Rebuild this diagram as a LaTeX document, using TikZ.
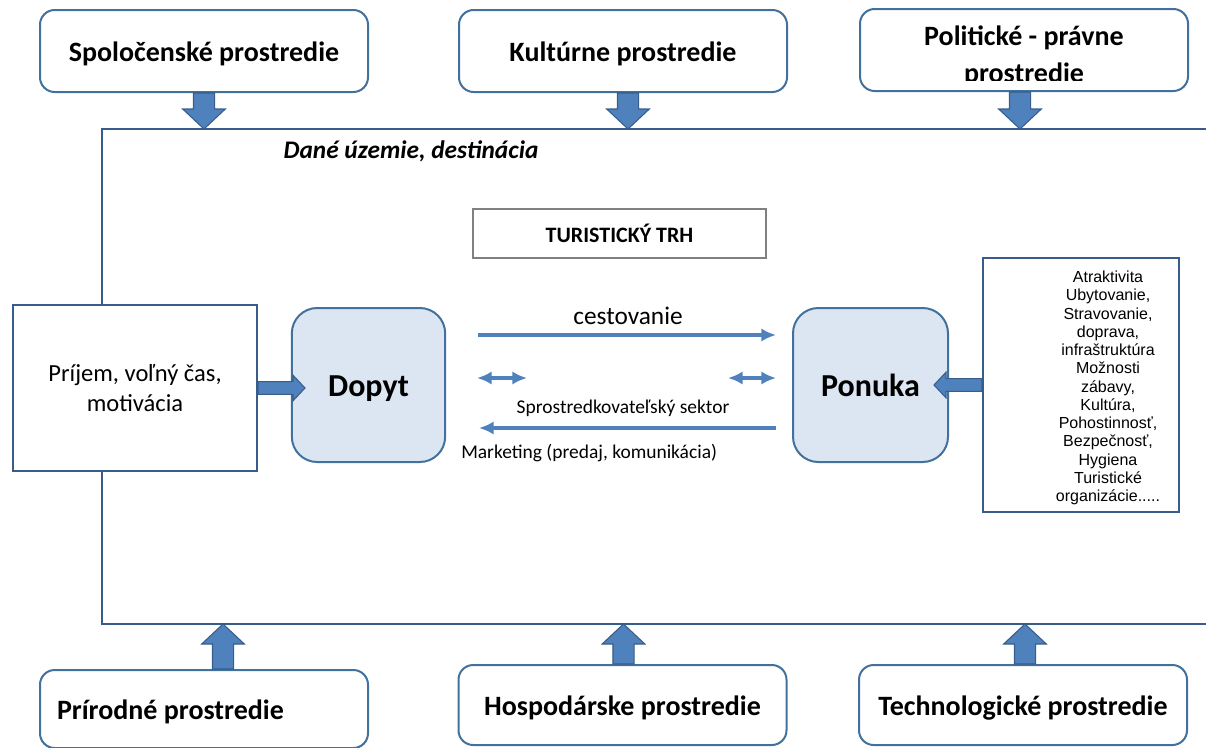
\documentclass[tikz,border=0pt]{standalone}
\usepackage{fontspec}
\setmainfont{Carlito}
\newfontfamily\arialfont{Liberation Sans}
\usetikzlibrary{calc,arrows.meta}

\definecolor{boxline}{RGB}{65,113,156}
\definecolor{frameline}{RGB}{56,93,138}
\definecolor{arrblue}{RGB}{79,129,189}
\definecolor{lightfill}{RGB}{220,230,242}

% block arrow: [scale]{from}{tip}
\newcommand\blockarrow[3][1]{%
  \pgfmathsetlengthmacro\bas{#1*7.9pt}%
  \pgfmathsetlengthmacro\bah{#1*16pt}%
  \pgfmathsetlengthmacro\bal{#1*15pt}%
  \coordinate (bh) at ($(#3)!\bal!(#2)$);
  \filldraw[block] ($(#2)!\bas!90:(#3)$) -- ($(bh)!\bas!90:(#3)$) -- ($(bh)!\bah!90:(#3)$)
    -- (#3) -- ($(bh)!\bah!-90:(#3)$) -- ($(bh)!\bas!-90:(#3)$) -- ($(#2)!\bas!-90:(#3)$) -- cycle;}

\tikzset{
  envbox/.style={draw=boxline, line width=1.5pt, rounded corners=11pt, fill=white,
    minimum width=246pt, minimum height=61.5pt, text height=16pt, text depth=0pt,
    font=\fontsize{21}{24}\selectfont\bfseries},
  sqbox/.style={draw=frameline, line width=1.5pt, fill=white},
  mktbox/.style={draw=boxline, line width=1.5pt, rounded corners=19pt, fill=lightfill,
    minimum width=115pt, minimum height=115.5pt, text height=22pt, text depth=4.8pt,
    font=\fontsize{24}{28}\selectfont\bfseries},
  frame/.style={draw=frameline, line width=1.8pt},
  flow/.style={draw=arrblue, line width=2.8pt, -{Latex[length=11pt,width=10pt]}},
  twoway/.style={draw=arrblue, line width=2.8pt, {Latex[length=11pt,width=10pt]}-{Latex[length=11pt,width=10pt]}},
  block/.style={fill=arrblue, draw=frameline, line width=0.8pt},
  lbl/.style={font=\fontsize{14.6}{17}\selectfont},
}

\begin{document}
\begin{tikzpicture}[x=0.75pt,y=-0.75pt]
\clip (0,0) rectangle (1206,747);

% territory frame
\coordinate (ftl) at (102,129);
\coordinate (fbl) at (102,624);
\draw[frame] (1215,129) -- (ftl) -- (fbl) -- (1215,624);
\node[font=\fontsize{19}{22}\selectfont\bfseries\itshape] (uzemie) at (411,151) {Dané územie, destinácia};

% environment boxes, top
\node[envbox] (spol) at (204,51) {Spoločenské prostredie};
\node[envbox] (kult) at (623,51) {Kultúrne prostredie};
\node[envbox] (pol) at (1024,50) {};
\begin{scope}
\clip (860,10) rectangle (1188,80);
\node[font=\fontsize{21}{27.75}\selectfont\bfseries, align=center] (poltext) at (1024,56) {Politické - právne\\prostredie};
\end{scope}

% environment boxes, bottom
\node[envbox, minimum height=58.5pt, align=flush left, text width=220.5pt, inner xsep=12.75pt] (prir) at (204,709) {Prírodné prostredie};
\node[envbox, minimum height=60pt] (hosp) at (622.5,705) {Hospodárske prostredie};
\node[envbox, minimum height=60pt] (tech) at (1023,705) {Technologické prostredie};

% arrows into the frame
\coordinate (t1) at (spol.south |- ftl);
\coordinate (t2) at ($(kult.south |- ftl)+(5,0)$);
\coordinate (t3) at ($(pol.south |- ftl)+(-4,0)$);
\blockarrow{spol.south}{t1}
\blockarrow{kult.south -| t2}{t2}
\blockarrow{pol.south -| t3}{t3}
\coordinate (b1) at ($(prir.north |- fbl)+(19,0)$);
\coordinate (b2) at ($(hosp.north |- fbl)+(1,0)$);
\coordinate (b3) at ($(tech.north |- fbl)+(2,0)$);
\blockarrow{prir.north -| b1}{b1}
\blockarrow{hosp.north -| b2}{b2}
\blockarrow{tech.north -| b3}{b3}

% market
\node[draw=gray, line width=1pt, minimum width=219.75pt, minimum height=36.75pt,
  font=\fontsize{16.5}{19}\selectfont\bfseries] (trh) at (619.5,233.5) {TURISTICKÝ TRH};

\node[sqbox, minimum width=183pt, minimum height=124.5pt, align=center,
  font=\fontsize{18.4}{22.5}\selectfont] (prijem) at (135,388) {Príjem, voľný čas,\\motivácia};
\node[mktbox] (dopyt) at (368.5,385) {Dopyt};
\node[mktbox, minimum width=116.25pt] (ponuka) at (870.5,385) {Ponuka};
\node[sqbox, minimum width=147pt, minimum height=190.5pt] (ponbox) at (1081,385) {};
\node[font=\arialfont\fontsize{12}{13.7}\selectfont, align=center] (pontext) at (1108,388)
  {Atraktivita\\Ubytovanie,\\Stravovanie,\\doprava,\\infraštruktúra\\Možnosti\\zábavy,\\Kultúra,\\Pohostinnosť,\\Bezpečnosť,\\Hygiena\\Turistické\\organizácie.....};

\coordinate (dtip) at (305,388);
\coordinate (ptip) at ($(ponuka.east)+(-15,0)$);
\blockarrow[0.6]{prijem.east}{dtip}
\blockarrow[0.6]{ponbox.west}{ptip}

% flows between demand and supply
\coordinate (c1) at (478,335);
\coordinate (c2) at (776,335);
\coordinate (s1) at (477,378);
\coordinate (s2) at (527,378);
\coordinate (s3) at (728,378);
\coordinate (s4) at (776,378);
\coordinate (m1) at (776,428);
\coordinate (m2) at (479,428);
\draw[flow] (c1) -- (c2);
\draw[twoway] (s1) -- (s2);
\draw[twoway] (s3) -- (s4);
\draw[flow] (m1) -- (m2);
\node[font=\fontsize{19}{22}\selectfont] (cest) at (628,316) {cestovanie};
\node[lbl] (sprost) at (623,408) {Sprostredkovateľský sektor};
\node[lbl, anchor=west, inner xsep=0pt] (mkt) at (461,453) {Marketing (predaj, komunikácia)};
\end{tikzpicture}
\end{document}
